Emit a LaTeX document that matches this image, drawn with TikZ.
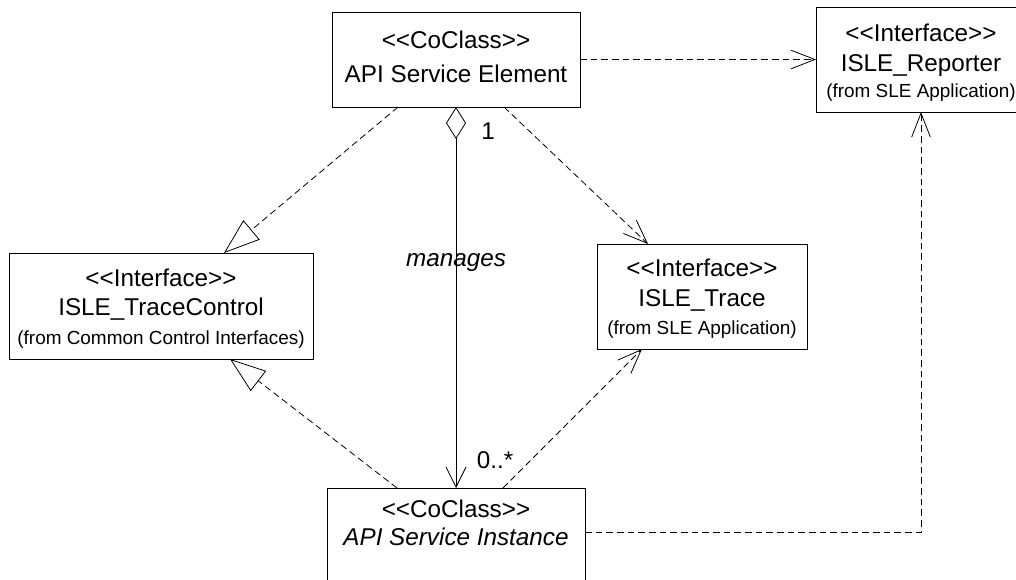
\documentclass[tikz,border=0pt]{standalone}
\usepackage{fontspec}
\setmainfont{Liberation Sans}
\usetikzlibrary{arrows.meta,calc}
\newcommand\stleft{<\kern0pt<}
\newcommand\stright{>\kern0pt>}

\begin{document}
\begin{tikzpicture}[x=0.75pt, y=-0.75pt,
  umlbox/.style={draw, line width=0.7pt, inner sep=0pt, outer sep=0pt},
  stereo/.style={anchor=base, inner sep=0pt, font=\fontsize{18.2}{22}\selectfont},
  pkg/.style={anchor=base, inner sep=0pt, font=\fontsize{14.2}{17}\selectfont},
  mult/.style={inner sep=0pt, font=\fontsize{18.2}{22}\selectfont},
  dep/.style={line width=0.6pt, dash pattern=on 5pt off 3pt, -{Straight Barb[length=18pt,width=14pt]}},
  realize/.style={line width=0.6pt, dash pattern=on 5pt off 3pt, -{Triangle[open,length=27pt,width=19pt]}},
  aggr/.style={line width=0.6pt, {Diamond[open,length=24pt,width=15pt]}-{Straight Barb[length=15pt,width=15pt]}}]

\useasboundingbox (0,0) rectangle (1016,579);

% Draw the class boxes
\node [umlbox, minimum width=186pt, minimum height=71.25pt] (elem) at (456,59.5) {};
\node [umlbox, minimum width=157.5pt, minimum height=78.75pt] (rep) at (921,59.5) {};
\node [umlbox, minimum width=228pt, minimum height=79.5pt] (ctl) at (161,306) {};
\node [umlbox, minimum width=157.5pt, minimum height=78.75pt] (trc) at (702,296.5) {};
\node [umlbox, minimum width=193.5pt, minimum height=99pt] (inst) at (456,554) {};

% Box texts
\node [stereo] (elem-st) at (456,48) {\stleft CoClass\stright};
\node [stereo] (elem-nm) at (456,82) {API Service Element};

\node [stereo] (rep-st) at (921,41) {\stleft Interface\stright};
\node [stereo] (rep-nm) at (921,71) {ISLE\_Reporter};
\node [pkg]    (rep-pk) at (921,97) {(from SLE Application)};

\node [stereo] (ctl-st) at (161,286) {\stleft Interface\stright};
\node [stereo] (ctl-nm) at (161,315) {ISLE\_TraceControl};
\node [pkg]    (ctl-pk) at (161,344) {(from Common Control Interfaces)};

\node [stereo] (trc-st) at (702,276) {\stleft Interface\stright};
\node [stereo] (trc-nm) at (702,306) {ISLE\_Trace};
\node [pkg]    (trc-pk) at (702,334) {(from SLE Application)};

\node [stereo] (inst-st) at (456,517) {\stleft CoClass\stright};
\node [stereo] (inst-nm) at (456,545) {\itshape API Service Instance};

% Draw the connectors
\draw [dep] (elem.east) -- (rep.west);
\draw [realize] ($(elem.south)+(-58,0)$) -- ($(ctl.north)+(63,0)$);
\draw [dep] ($(elem.south)+(48,0)$) -- ($(trc.north)+(-54,0)$);
\draw [realize] ($(inst.north)+(-59,0)$) -- ($(ctl.south)+(69,0)$);
\draw [dep] ($(inst.north)+(47,0)$) -- ($(trc.south)+(-60,0)$);
\draw [dep] ($(inst.north east)+(0,44)$) -| (rep.south);
\draw [aggr] (elem.south) -- (inst.north);

% Labels on the aggregation
\node [mult] (one) at (488,131) {1};
\node [mult] (many) at (495,460) {0..*};
\node [mult] (manages) at (456,262) {\itshape manages};

\end{tikzpicture}
\end{document}
